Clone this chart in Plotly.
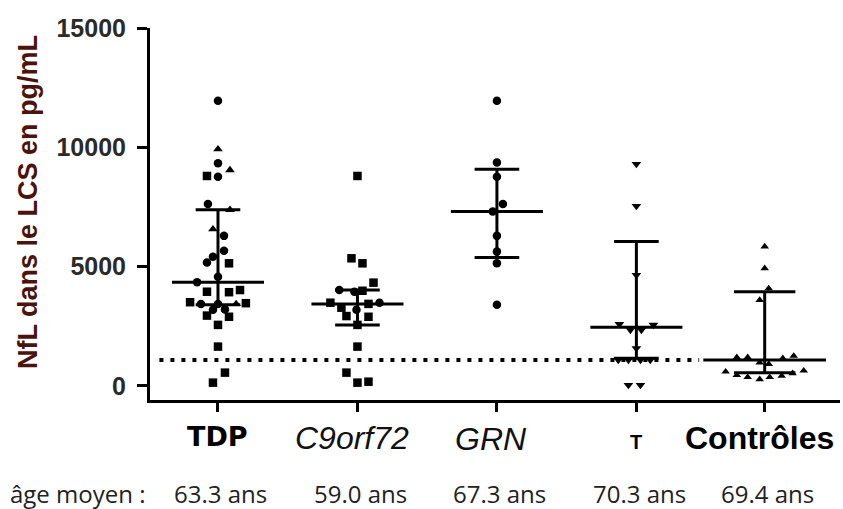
import plotly.graph_objects as go

# ---------------- data ----------------
groups = ["TDP", "C9orf72", "GRN", "T", "Contrôles"]
group_pos = [1, 2, 3, 4, 4.92]
ages = ["63.3 ans", "59.0 ans", "67.3 ans", "70.3 ans", "69.4 ans"]

tdp_values = [11950, 9920, 9330, 9050, 8800, 8770, 7630, 7380, 6570, 6290, 5670, 5420,
              5170, 5140, 4580, 4350, 4020, 3950, 3930, 3510, 3440, 3440, 3440, 3470,
              3190, 3210, 2950, 2900, 2560, 1650, 560, 140]
tdp_jitter = [0, 0, 0, 0.086, -0.079, 0, -0.072, 0.086, -0.036, 0.043, 0.043, -0.036,
              -0.079, 0.079, 0, -0.15, 0.158, -0.079, 0.079, -0.2, -0.122, 0, 0.13, 0.2,
              -0.036, 0.05, -0.079, 0.079, 0, 0, 0.05, -0.036]
tdp_symbols = ["circle", "triangle-up", "circle", "triangle-up", "square", "circle",
               "circle", "triangle-up", "triangle-up", "circle", "circle", "circle",
               "circle", "square", "circle", "circle", "square", "square", "square",
               "square", "circle", "circle", "triangle-up", "square", "circle", "circle",
               "square", "square", "square", "square", "square", "square"]

c9_values = [8800, 5350, 5140, 4330, 4020, 3950, 3990, 3490, 3280, 3190, 3440, 3490,
             2930, 2900, 2560, 1650, 560, 140, 180]
c9_jitter = [0, -0.043, 0.036, 0.115, -0.13, -0.022, 0.036, -0.194, -0.115, -0.007,
             0.079, 0.158, -0.079, 0.079, 0, 0, -0.079, 0, 0.079]
c9_symbols = ["square", "square", "square", "square", "circle", "circle", "square",
              "square", "square", "circle", "square", "circle", "square", "square",
              "square", "square", "square", "square", "square"]

grn_values = [11950, 9360, 8770, 7630, 7310, 6290, 5630, 5140, 3400]
grn_jitter = [0, 0, 0, 0.043, -0.03, 0, 0, 0, 0]

t_values = [9300, 7540, 4650, 2590, 2350, 2350, 2560, 1580, 1090, 1090, 1090, 1090, 40, 40]
t_jitter = [0, 0, 0, -0.122, -0.043, 0.036, 0.122, 0, -0.13, -0.057, 0.029, 0.1, -0.057, 0.029]

ctrl_values = [5840, 4930, 4090, 3600, 1200, 1200, 1160, 1260, 980, 920,
               600, 460, 370, 280, 370, 420, 530, 640]
ctrl_jitter = [0, 0, 0.029, -0.036, -0.2, -0.122, 0.13, 0.208, -0.036, 0.029,
               -0.28, -0.2, -0.122, -0.036, 0.036, 0.122, 0.2, 0.28]

medians = [4350, 3440, 7310, 2460, 1090]
upper = [7380, 4020, 9080, 6050, 3950]
lower = [3400, 2560, 5380, 1160, 560]

detection_limit = 1090

y_ticks = [0, 5000, 10000, 15000]

# ---------------- figure ----------------
fig = go.Figure()

def add_points(i, values, jitter, symbols, size):
    fig.add_trace(go.Scatter(
        x=[group_pos[i] + j for j in jitter], y=values, mode="markers",
        marker=dict(symbol=symbols, size=size, color="black", line=dict(width=0)),
        showlegend=False, hoverinfo="skip"))

add_points(0, tdp_values, tdp_jitter, tdp_symbols, 8.5)
add_points(1, c9_values, c9_jitter, c9_symbols, 8.5)
add_points(2, grn_values, grn_jitter, "circle", 8.5)
add_points(3, t_values, t_jitter, "triangle-down", 8.5)
add_points(4, ctrl_values, ctrl_jitter, "triangle-up", 7.5)

# detection limit dotted line
fig.add_trace(go.Scatter(
    x=[0.58, 4.45], y=[detection_limit, detection_limit], mode="lines",
    line=dict(color="black", width=4, dash="4px,7px"),
    showlegend=False, hoverinfo="skip"))

# median + range bars
med_half = [0.33, 0.33, 0.33, 0.33, 0.44]
whisk_half = [0.16, 0.16, 0.16, 0.16, 0.22]
for i in range(len(groups)):
    p = group_pos[i]
    xs = [p - med_half[i], p + med_half[i], None,
          p - whisk_half[i], p + whisk_half[i], None,
          p - whisk_half[i], p + whisk_half[i], None,
          p, p]
    ys = [medians[i], medians[i], None,
          upper[i], upper[i], None,
          lower[i], lower[i], None,
          lower[i], upper[i]]
    fig.add_trace(go.Scatter(x=xs, y=ys, mode="lines",
                             line=dict(color="black", width=3),
                             showlegend=False, hoverinfo="skip"))

# ---------------- labels ----------------
label_styles = [
    dict(text="<b>TDP</b>", font=dict(family="DejaVu Sans", size=27, color="black"), yshift=-36),
    dict(text="<i>C9orf72</i>", font=dict(family="Liberation Sans", size=32, color="#111"), yshift=-38),
    dict(text="<i>GRN</i>", font=dict(family="Liberation Sans", size=32, color="#111"), yshift=-39),
    dict(text="<b>T</b>", font=dict(family="Liberation Sans", size=20, color="black"), yshift=-42),
    dict(text="<b>Contrôles</b>", font=dict(family="Liberation Sans", size=32, color="black"), yshift=-38),
]
label_dx = [0, -5, -6, 0, -5]
annotations = []
for i, st in enumerate(label_styles):
    annotations.append(dict(x=group_pos[i], y=0, xref="x", yref="paper", text=st["text"],
                            font=st["font"], showarrow=False, xanchor="center",
                            yanchor="middle", yshift=st["yshift"], xshift=label_dx[i]))
    annotations.append(dict(x=group_pos[i], y=0, xref="x", yref="paper", text=ages[i],
                            font=dict(family="Open Sans", size=24, color="#222"),
                            showarrow=False, xanchor="center", yanchor="middle",
                            yshift=-93, xshift=3))
annotations.append(dict(x=0, y=0, xref="paper", yref="paper", text="âge moyen :",
                        font=dict(family="Open Sans", size=24, color="#222"),
                        showarrow=False, xanchor="center", yanchor="middle",
                        xshift=-72, yshift=-93))
annotations.append(dict(x=0, y=0.5, xref="paper", yref="paper",
                        text="<b>NfL dans le LCS en pg/mL</b>", textangle=-90,
                        font=dict(family="Liberation Sans", size=27, color="#4a140c"),
                        showarrow=False, xanchor="center", yanchor="middle",
                        xshift=-122, yshift=12))

fig.update_layout(
    width=843, height=509,
    margin=dict(l=150, r=3, t=28, b=109),
    paper_bgcolor="white", plot_bgcolor="white",
    showlegend=False,
    annotations=annotations,
    xaxis=dict(range=[0.5125, 5.46], showgrid=False, zeroline=False,
               showline=True, linecolor="black", linewidth=3,
               ticks="outside", ticklen=9, tickwidth=2.5, tickcolor="black",
               tickvals=group_pos, ticktext=["" for _ in groups]),
    yaxis=dict(range=[-587, 15000], showgrid=False, zeroline=False,
               showline=True, linecolor="black", linewidth=3,
               ticks="outside", ticklen=10, tickwidth=2.5, tickcolor="black",
               tickvals=y_ticks, ticktext=[str(v) for v in y_ticks],
               tickfont=dict(family="Liberation Sans", size=25, color="#2a2a2a",
                             weight="bold"),
               ticklabelstandoff=6),
)

fig.write_html("out.html")
